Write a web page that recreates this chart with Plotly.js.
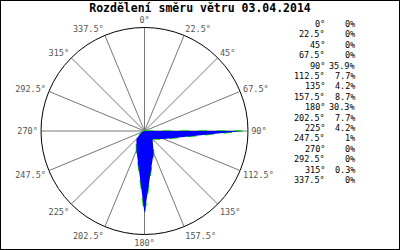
<!DOCTYPE html>
<html><head><meta charset="utf-8">
<script src="https://cdn.plot.ly/plotly-3.0.1.min.js"></script>
<style>html,body{margin:0;padding:0;background:#fff}#chart{width:400px;height:250px}</style>
</head><body><div id="chart"></div>
<script>
var directions = [0, 22.5, 45, 67.5, 90, 112.5, 135, 157.5, 180, 202.5, 225, 247.5, 270, 292.5, 315, 337.5];
var percents = [0, 0, 0, 0, 35.9, 7.7, 4.2, 8.7, 30.3, 7.7, 4.2, 1, 0, 0, 0.3, 0];
var titleText = 'Rozdělení směru větru 03.04.2014';
var tickLabels = directions.map(function(d){ return d + '°'; });

var thetaClosed = directions.concat([directions[0]]);
var rClosed = percents.concat([percents[0]]);

var mono = 'DejaVu Sans Mono, monospace';

var traces = [
  {type:'scatterpolar', mode:'lines', r:rClosed, theta:thetaClosed,
   line:{color:'#00dd00', width:1.5, dash:'dash'}, hoverinfo:'skip', showlegend:false},
  {type:'scatterpolar', mode:'lines', r:rClosed, theta:thetaClosed, fill:'toself',
   fillcolor:'#0000ff', line:{color:'#0000ff', width:0}, hoverinfo:'skip', showlegend:false}
];

var annotations = [];
var y0 = 24, dy = 10.4;
directions.forEach(function(d, i){
  var ypx = y0 + i*dy;
  annotations.push({xref:'paper', yref:'paper', x:326/400, y:1 - ypx/250, xanchor:'right', yanchor:'middle',
    text:tickLabels[i], showarrow:false, borderpad:0, font:{family:mono, size:8.5, color:'#000'}});
  annotations.push({xref:'paper', yref:'paper', x:356/400, y:1 - ypx/250, xanchor:'right', yanchor:'middle',
    text:percents[i] + '%', showarrow:false, borderpad:0, font:{family:mono, size:8.5, color:'#000'}});
});

var cx = 144.5, cy = 131, R = 103.5;
var layout = {
  width:400, height:250,
  margin:{l:0, r:0, t:0, b:0},
  paper_bgcolor:'#fff',
  showlegend:false,
  title:{text:'<b>' + titleText + '</b>', x:0.5, xanchor:'center', y:1 - 8/250, yanchor:'middle',
         font:{family:mono, size:11.5, color:'#000'}},
  polar:{
    domain:{x:[(cx-R)/400, (cx+R)/400], y:[(250-cy-R)/250, (250-cy+R)/250]},
    bgcolor:'#fff',
    radialaxis:{range:[0, 38], showgrid:false, showline:false, showticklabels:false, ticks:''},
    angularaxis:{rotation:90, direction:'clockwise', tickmode:'array', tickvals:directions, ticktext:tickLabels,
      showgrid:true, gridcolor:'#777', gridwidth:1, showline:true, linecolor:'#000', linewidth:1,
      ticks:'outside', ticklen:1, tickcolor:'#fff', tickwidth:0,
      tickfont:{family:mono, size:8.5, color:'#555'}}
  },
  annotations:annotations,
  shapes:[{type:'rect', xref:'paper', yref:'paper', x0:0, x1:1, y0:0, y1:1, line:{color:'#000', width:2}, layer:'above'}]
};
Plotly.newPlot('chart', traces, layout, {staticPlot:true, displayModeBar:false});
</script></body></html>
